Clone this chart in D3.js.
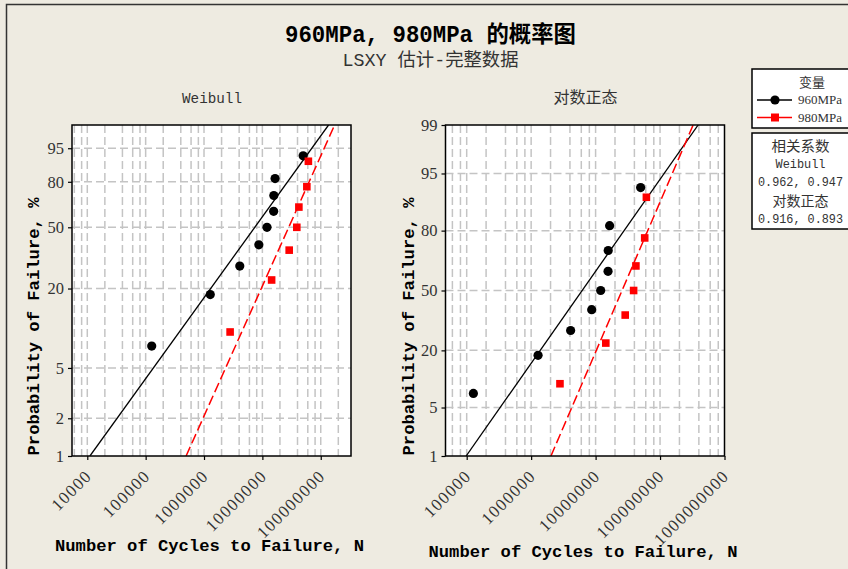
<!DOCTYPE html>
<html><head><meta charset="utf-8">
<script src="https://cdn.jsdelivr.net/npm/d3@7"></script>
<style>
body{margin:0;background:#EEEBE1;}
svg{display:block;}
</style></head>
<body><svg id="chart" width="848" height="569"></svg>
<script>
// ---------- data ----------
const seriesNames = ["960MPa", "980MPa"];
const cycles960 = [1.27e5, 1.28e6, 4.1e6, 8.7e6, 1.2e7, 1.56e7, 1.57e7, 1.65e7, 5.0e7];
const percent960 = [7.4, 18.1, 28.7, 39.4, 50, 60.6, 71.3, 81.9, 92.6];
const cycles980 = [2.8e6, 1.44e7, 2.88e7, 3.89e7, 4.22e7, 5.78e7, 6.14e7];
const percent980 = [9.5, 23.0, 36.5, 50, 63.5, 77.0, 90.5];
// fitted lines (LSXY), cycles at 1% and 99%
const fitPercent = [1, 99];
const weibullFit960 = [1.11e4, 1.36e8];
const weibullFit980 = [4.93e5, 1.73e8];
const lognormFit960 = [9.8e4, 3.9e8];
const lognormFit980 = [2.03e6, 3.26e8];
// axis ticks
const weibullPctTicks = [1, 2, 5, 20, 50, 80, 95];
const lognormPctTicks = [1, 5, 20, 50, 80, 95, 99];
const weibullXTicks = [1e4, 1e5, 1e6, 1e7, 1e8];
const weibullXLabels = ["10000", "100000", "1000000", "10000000", "100000000"];
const lognormXTicks = [1e5, 1e6, 1e7, 1e8, 1e9];
const lognormXLabels = ["100000", "1000000", "10000000", "100000000", "1000000000"];
const corrWeibull = ["0.962", "0.947"];
const corrLognorm = ["0.916", "0.893"];
const titleText = "960MPa, 980MPa 的概率图";
const subtitleText = "LSXY 估计-完整数据";
const panelTitles = ["Weibull", "对数正态"];
const yLabel = "Probability of Failure, %";
const xLabel = "Number of Cycles to Failure, N";

// ---------- helpers ----------
function invNorm(p) {
  const a=[-3.969683028665376e+01,2.209460984245205e+02,-2.759285104469687e+02,1.383577518672690e+02,-3.066479806614716e+01,2.506628277459239e+00];
  const b=[-5.447609879822406e+01,1.615858368580409e+02,-1.556989798598866e+02,6.680131188771972e+01,-1.328068155288572e+01];
  const c=[-7.784894002430293e-03,-3.223964580411365e-01,-2.400758277161838e+00,-2.549732539343734e+00,4.374664141464968e+00,2.938163982698783e+00];
  const d=[7.784695709041462e-03,3.224671290700398e-01,2.445134137142996e+00,3.754408661907416e+00];
  const plow=0.02425, phigh=1-plow; let q,r;
  if(p<plow){q=Math.sqrt(-2*Math.log(p));return (((((c[0]*q+c[1])*q+c[2])*q+c[3])*q+c[4])*q+c[5])/((((d[0]*q+d[1])*q+d[2])*q+d[3])*q+1);}
  if(p<=phigh){q=p-0.5;r=q*q;return (((((a[0]*r+a[1])*r+a[2])*r+a[3])*r+a[4])*r+a[5])*q/(((((b[0]*r+b[1])*r+b[2])*r+b[3])*r+b[4])*r+1);}
  q=Math.sqrt(-2*Math.log(1-p));return -(((((c[0]*q+c[1])*q+c[2])*q+c[3])*q+c[4])*q+c[5])/((((d[0]*q+d[1])*q+d[2])*q+d[3])*q+1);
}
const weibullT = p => Math.log(-Math.log(1 - p/100));
const normalT = p => invNorm(p/100);

const MONO = "'Liberation Mono','Noto Sans CJK SC',monospace";
const svg = d3.select("#chart");

// frame
svg.append("rect").attr("x",6.5).attr("y",4.5).attr("width",900).attr("height",600)
  .attr("fill","none").attr("stroke","#333").attr("stroke-width",1.5);

// titles
svg.append("text").attr("x",430.5).attr("y",42).attr("text-anchor","middle")
  .attr("font-family",MONO).attr("font-weight","bold").attr("font-size",23)
  .attr("textLength",291).attr("lengthAdjust","spacingAndGlyphs").attr("fill","#000").text(titleText);
svg.append("text").attr("x",430.5).attr("y",65.5).attr("text-anchor","middle")
  .attr("font-family",MONO).attr("font-size",18.5)
  .attr("textLength",176).attr("lengthAdjust","spacingAndGlyphs").attr("fill","#333").text(subtitleText);

const panels = [
  { title: panelTitles[0], titleW: 60, titleSize: 15, x0: 72, x1: 351, xDomain: [5470, 3.3e8], T: weibullT,
    pctTicks: weibullPctTicks, xTicks: weibullXTicks, xLabels: weibullXLabels,
    fit960: weibullFit960, fit980: weibullFit980, yLabX: 39, xLabX: 209.5, xLabY: 550.5 },
  { title: panelTitles[1], titleW: 64, titleSize: 16, x0: 445.5, x1: 724.5, xDomain: [46900, 1e9], T: normalT,
    pctTicks: lognormPctTicks, xTicks: lognormXTicks, xLabels: lognormXLabels,
    fit960: lognormFit960, fit980: lognormFit980, yLabX: 414, xLabX: 583, xLabY: 556.5 }
];
const yTop = 125, yBot = 456;

panels.forEach((P, pi) => {
  const g = svg.append("g");
  const x = d3.scaleLog().domain(P.xDomain).range([P.x0, P.x1]);
  const y = d3.scaleLinear().domain([P.T(1), P.T(99)]).range([yBot, yTop]);
  const cx = (P.x0 + P.x1) / 2;

  g.append("text").attr("x", cx + 0.5).attr("y", 103).attr("text-anchor","middle")
    .attr("font-family",MONO).attr("font-size",P.titleSize).attr("fill","#333")
    .attr("textLength",P.titleW).attr("lengthAdjust","spacingAndGlyphs").text(P.title);

  // plot background
  g.append("rect").attr("x",P.x0).attr("y",yTop).attr("width",P.x1-P.x0).attr("height",yBot-yTop).attr("fill","#fff");

  const clipId = "clip"+pi;
  g.append("clipPath").attr("id",clipId).append("rect")
    .attr("x",P.x0).attr("y",yTop).attr("width",P.x1-P.x0).attr("height",yBot-yTop);
  const inner = g.append("g").attr("clip-path",`url(#${clipId})`);

  // vertical grid at 1,2,4,6,8 x 10^k
  const gridX = [];
  for (let k = Math.floor(Math.log10(P.xDomain[0])); k <= Math.ceil(Math.log10(P.xDomain[1])); k++) {
    [1,2,4,6,8].forEach(m => { const v = m*Math.pow(10,k); if (v > P.xDomain[0] && v < P.xDomain[1]) gridX.push(v); });
  }
  inner.selectAll(".vg").data(gridX).enter().append("line")
    .attr("x1",d=>x(d)).attr("x2",d=>x(d)).attr("y1",yTop).attr("y2",yBot)
    .attr("stroke","#c4c4c4").attr("stroke-width",1.5).attr("stroke-dasharray","8,4");
  inner.selectAll(".hg").data(P.pctTicks.filter(p=>p>1&&p<99)).enter().append("line")
    .attr("x1",P.x0).attr("x2",P.x1).attr("y1",d=>y(P.T(d))).attr("y2",d=>y(P.T(d)))
    .attr("stroke","#c4c4c4").attr("stroke-width",1.5).attr("stroke-dasharray","8,4");

  // fit lines
  const line = d3.line().x(d=>x(d[0])).y(d=>y(P.T(d[1])));
  inner.append("path").datum(P.fit960.map((c,i)=>[c,fitPercent[i]])).attr("d",line)
    .attr("fill","none").attr("stroke","#000").attr("stroke-width",1.3);
  inner.append("path").datum(P.fit980.map((c,i)=>[c,fitPercent[i]])).attr("d",line)
    .attr("fill","none").attr("stroke","#f00").attr("stroke-width",1.5).attr("stroke-dasharray","10,4");

  // points
  g.selectAll(".p960").data(cycles960.map((c,i)=>[c,percent960[i]])).enter().append("circle")
    .attr("cx",d=>x(d[0])).attr("cy",d=>y(P.T(d[1]))).attr("r",4.6).attr("fill","#000");
  g.selectAll(".p980").data(cycles980.map((c,i)=>[c,percent980[i]])).enter().append("rect")
    .attr("x",d=>x(d[0])-3.8).attr("y",d=>y(P.T(d[1]))-3.8).attr("width",7.6).attr("height",7.6).attr("fill","#f00");

  // border
  g.append("rect").attr("x",P.x0).attr("y",yTop).attr("width",P.x1-P.x0).attr("height",yBot-yTop)
    .attr("fill","none").attr("stroke","#000").attr("stroke-width",1.5);

  // y axis
  const yAxis = d3.axisLeft(y).tickValues(P.pctTicks.map(P.T)).tickSize(4).tickPadding(4)
    .tickFormat((d,i)=>String(P.pctTicks[i]));
  const ya = g.append("g").attr("transform",`translate(${P.x0},0)`).call(yAxis);
  ya.select(".domain").remove();
  ya.selectAll("line").attr("stroke","#000").attr("stroke-width",1.2);
  ya.selectAll("text").attr("font-family","'Liberation Serif',serif").attr("font-size",16.5).attr("fill","#333");

  // x axis
  const xAxis = d3.axisBottom(x).tickValues(P.xTicks).tickSize(4).tickFormat((d,i)=>P.xLabels[i]);
  const xa = g.append("g").attr("transform",`translate(0,${yBot})`).call(xAxis);
  xa.select(".domain").remove();
  xa.selectAll("line").attr("stroke","#000").attr("stroke-width",1.2);
  xa.selectAll("text").attr("font-family","'Liberation Serif',serif").attr("font-size",17)
    .attr("letter-spacing","1.3px").attr("fill","#333")
    .attr("text-anchor","end").attr("y",0).attr("dy",0)
    .attr("transform","translate(5,21) rotate(-45)");

  // axis labels
  g.append("text").attr("transform",`translate(${P.yLabX},${(yTop+yBot)/2+36}) rotate(-90)`)
    .attr("text-anchor","middle").attr("font-family",MONO).attr("font-weight","bold").attr("font-size",17)
    .attr("textLength",258).attr("lengthAdjust","spacingAndGlyphs").attr("fill","#000").text(yLabel);
  g.append("text").attr("x",P.xLabX).attr("y",P.xLabY)
    .attr("text-anchor","middle").attr("font-family",MONO).attr("font-weight","bold").attr("font-size",17)
    .attr("textLength",309).attr("lengthAdjust","spacingAndGlyphs").attr("fill","#000").text(xLabel);
});

// legend box 1
const lg = svg.append("g");
lg.append("rect").attr("x",752).attr("y",69).attr("width",110).attr("height",59)
  .attr("fill","#fff").attr("stroke","#000").attr("stroke-width",1.5);
lg.append("text").attr("x",812).attr("y",86.5).attr("text-anchor","middle").attr("font-family",MONO)
  .attr("font-size",13).attr("fill","#333").text("变量");
const legendRows = [
  {name: seriesNames[0], color:"#000", y:100, shape:"circle"},
  {name: seriesNames[1], color:"#f00", y:117.5, shape:"square"}
];
legendRows.forEach(r => {
  lg.append("line").attr("x1",757).attr("x2",792).attr("y1",r.y).attr("y2",r.y).attr("stroke",r.color).attr("stroke-width",1.5);
  if (r.shape==="circle") lg.append("circle").attr("cx",775).attr("cy",r.y).attr("r",4.6).attr("fill",r.color);
  else lg.append("rect").attr("x",771).attr("y",r.y-4).attr("width",8).attr("height",8).attr("fill",r.color);
  lg.append("text").attr("x",798).attr("y",r.y+4).attr("font-family","'Liberation Serif',serif").attr("font-size",13)
    .attr("textLength",44).attr("lengthAdjust","spacingAndGlyphs").attr("fill","#333").text(r.name);
});
// legend box 2
lg.append("rect").attr("x",752).attr("y",133).attr("width",110).attr("height",96)
  .attr("fill","#fff").attr("stroke","#000").attr("stroke-width",1.5);
const corrLines = [
  {t:"相关系数", y:151, w:58},
  {t:panelTitles[0], y:168, w:50},
  {t:corrWeibull.join(", "), y:186, w:85},
  {t:panelTitles[1], y:206, w:56},
  {t:corrLognorm.join(", "), y:223, w:85}
];
corrLines.forEach(l => {
  lg.append("text").attr("x",800.5).attr("y",l.y).attr("text-anchor","middle").attr("font-family",MONO)
    .attr("font-size",13.5).attr("textLength",l.w).attr("lengthAdjust","spacingAndGlyphs").attr("fill","#333").text(l.t);
});
</script></body></html>
